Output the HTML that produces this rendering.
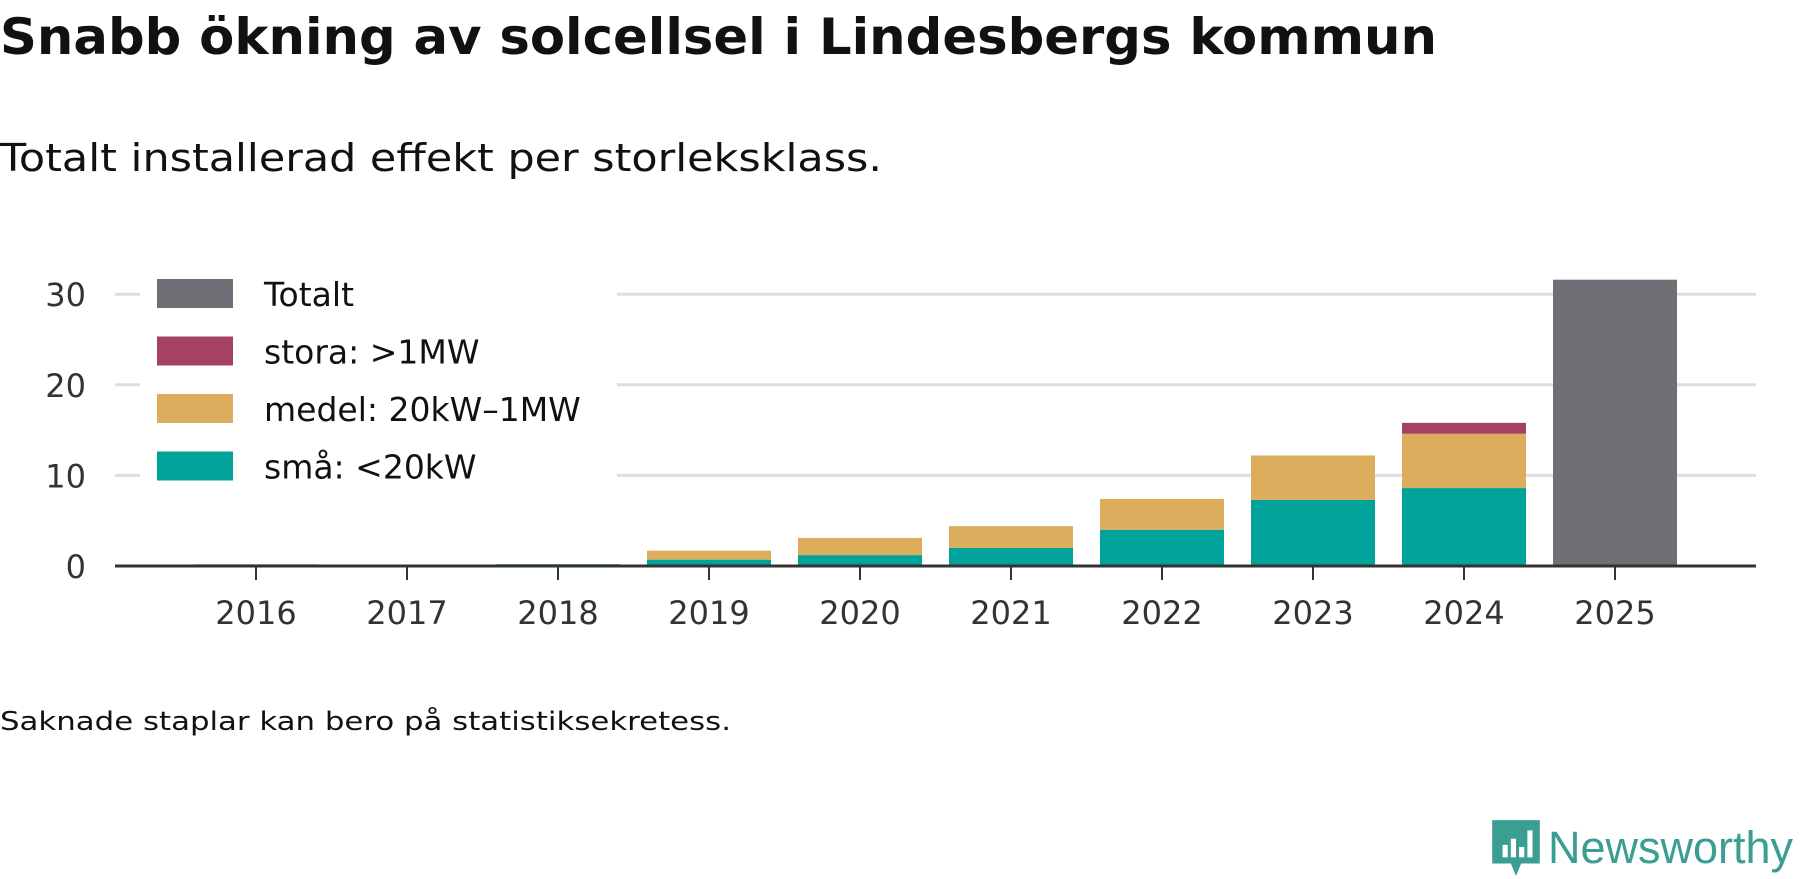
<!DOCTYPE html>
<html><head><meta charset="utf-8"><style>
body{margin:0;background:#fff;width:1800px;height:879px;overflow:hidden;font-family:"DejaVu Sans","Liberation Sans",sans-serif;color:#111}
.fit{position:absolute;left:0;white-space:nowrap;transform-origin:0 0;margin:0}
#title{top:8px;font-size:50px;font-weight:bold}
#sub{top:136px;font-size:38px}
#foot{top:707px;font-size:26px}
#logo{position:absolute;left:1490px;top:818px;display:flex;align-items:center}
</style></head><body>
<h1 id="title" class="fit">Snabb ökning av solcellsel i Lindesbergs kommun</h1>
<div id="sub" class="fit">Totalt installerad effekt per storleksklass.</div>
<svg id="chart" width="1800" height="700" style="position:absolute;left:0;top:0;font-family:'DejaVu Sans','Liberation Sans',sans-serif"></svg>
<div id="foot" class="fit">Saknade staplar kan bero på statistiksekretess.</div>
<div id="logo">
<svg width="52" height="60" viewBox="0 0 50 58"><path d="M2 2h46v42H30l-5 12-5-12H2z" fill="#3a9e92"/><rect x="12" y="26" width="5" height="12" fill="#fff"/><rect x="20" y="20" width="5" height="18" fill="#fff"/><rect x="28" y="28" width="5" height="10" fill="#fff"/><rect x="36" y="12" width="5" height="26" fill="#fff"/></svg>
<span style="font-family:'Liberation Sans',sans-serif;font-size:45px;color:#3a9e92;margin-left:6px">Newsworthy</span></div>
<script>
const years=["2016","2017","2018","2019","2020","2021","2022","2023","2024","2025"];
const sma=[0,0,0.2,0.7,1.2,2.0,4.0,7.3,8.6,0];
const medel=[0.2,0,0,1.0,1.9,2.4,3.4,4.9,6.0,0];
const stora=[0,0,0,0,0,0,0,0,1.2,0];
const totalt=[0,0,0,0,0,0,0,0,0,31.6];
const yTicks=[0,10,20,30];
const svg=document.getElementById('chart');const NS='http://www.w3.org/2000/svg';
const y0=566,pxPer=9.06,x0=256,step=151,bw=124,left=115,right=1756;
const y=v=>y0-v*pxPer, x=i=>x0+i*step;
function mk(t,a){const e=document.createElementNS(NS,t);for(const k in a)e.setAttribute(k,a[k]);svg.appendChild(e);return e;}
yTicks.forEach(t=>{
 if(t>0){const g=mk('line',{x1:left,x2:right,y1:y(t),y2:y(t),stroke:'#dedede','stroke-width':3});
 
 }
 const l=mk('text',{x:86,y:y(t)+12,'text-anchor':'end','font-size':32,fill:'#333'});l.textContent=t;
 
 
});
const lb=mk('rect',{x:140,y:270,width:477,height:225,fill:'#fff'});


const series=[[sma,'#00a39a','sma'],[medel,'#dbad5c','medel'],[stora,'#a64166','stora'],[totalt,'#706f75','totalt']];
years.forEach((yr,i)=>{let acc=0;
 series.forEach(([arr,c,n])=>{const v=arr[i];if(v>0){const r=mk('rect',{x:x(i)-bw/2,y:y(acc+v),width:bw,height:v*pxPer,fill:c});
 
 acc+=v;}});
 const tk=mk('line',{x1:x(i),x2:x(i),y1:y0,y2:y0+14,stroke:'#333','stroke-width':2});
 
 
 const tl=mk('text',{x:x(i),y:624,'text-anchor':'middle','font-size':32,fill:'#333'});tl.textContent=yr;
 
 
});
const ax=mk('line',{x1:left,x2:right,y1:y0,y2:y0,stroke:'#333','stroke-width':3});


const leg=[['Totalt','#706f75'],['stora: >1MW','#a64166'],['medel: 20kW–1MW','#dbad5c'],['små: <20kW','#00a39a']];
leg.forEach(([t,c],k)=>{const cy=294+k*57.5;
 const s=mk('rect',{x:157,y:cy-15,width:76,height:29,fill:c});
 
 
 const tx=mk('text',{x:264,y:cy+12,'font-size':33,fill:'#111'});tx.textContent=t;
 
 
});
[['title',1437],['sub',882],['foot',731]].forEach(([id,w])=>{const e=document.getElementById(id);const cw=e.getBoundingClientRect().width;if(cw>0)e.style.transform='scaleX('+(w/cw)+')';});
</script>
</body></html>
